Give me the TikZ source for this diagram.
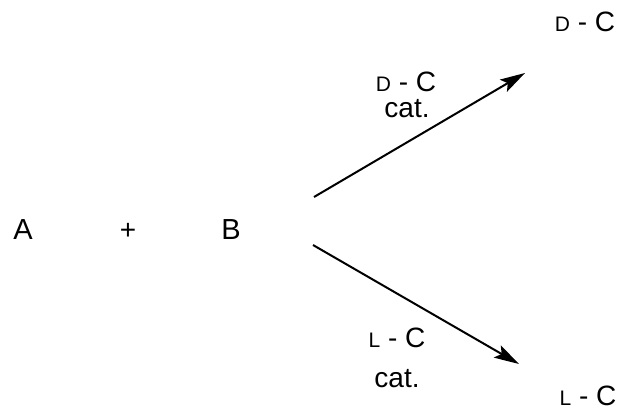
\documentclass[tikz,border=0pt]{standalone}
\usepackage{fontspec}
\setmainfont{Liberation Sans}
\usepackage{tikz}
\usetikzlibrary{arrows.meta,positioning,calc}

\newcommand{\smallcap}[1]{{\fontsize{21}{24}\selectfont #1}}

\begin{document}
\begin{tikzpicture}[x=1pt, y=-1pt,
    every node/.style={font=\fontsize{28}{32}\selectfont, inner sep=0pt, anchor=base},
    rxn/.style={line width=2pt, -{Stealth[length=25pt, width=14pt, inset=5pt]}}]
\useasboundingbox (0,0) rectangle (621,416);
% reactants
\node (a) at (23,239) {\fontsize{29}{32}\selectfont A};
\node (plus) at (128,239) {+};
\node (b) at (231,239) {\fontsize{29}{32}\selectfont B};
% products
\node (dprod) at (585,31) {\smallcap{D} - C};
\node (lprod) at (588,405) {\smallcap{L} - C};
% catalyst labels
\node (dcat) at (406,91) {\smallcap{D} - C};
\node (dcatb) at (407,117) {cat.};
\node (lcat) at (397,347) {\smallcap{L} - C};
\node (lcatb) at (397,387) {cat.};
% arrow ends
\coordinate (upfrom) at (314,197);
\coordinate (upto) at (525,73);
\coordinate (lowfrom) at (313,245);
\coordinate (lowto) at (519,364);
\draw[rxn] (upfrom) -- (upto);
\draw[rxn] (lowfrom) -- (lowto);
\end{tikzpicture}
\end{document}
